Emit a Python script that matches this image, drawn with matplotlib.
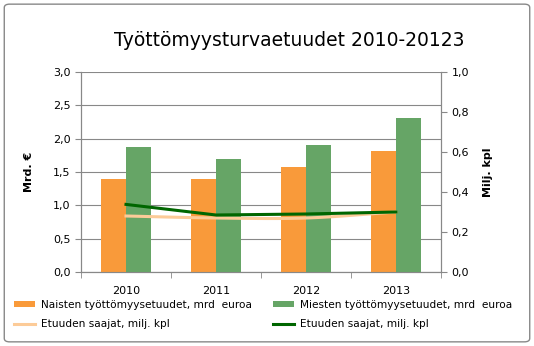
import numpy as np
import matplotlib
matplotlib.use('Agg')
import matplotlib.pyplot as plt
from matplotlib.patches import FancyBboxPatch

years = ['2010', '2011', '2012', '2013']
naiset = [1.39, 1.39, 1.58, 1.81]
miehet = [1.87, 1.69, 1.90, 2.31]
saajat_n = [0.28, 0.27, 0.27, 0.30]
saajat_m = [0.338, 0.285, 0.29, 0.30]

c_orange = '#F99A3A'
c_green = '#66A566'
c_light = '#FCCB98'
c_dark = '#006600'

plt.rcParams['font.family'] = ['DejaVu Sans']

fig = plt.figure(figsize=(5.34, 3.46), dpi=100)
fig.patches.append(FancyBboxPatch((0.008, 0.012), 0.984, 0.976, boxstyle='round,pad=0,rounding_size=0.01',
                                  transform=fig.transFigure, fill=False, ec='#888888', lw=1))
ax = fig.add_axes([81 / 534, 1 - 272 / 346, 360 / 534, 200 / 346])
ax2 = ax.twinx()

x = np.arange(len(years))
w = 0.28
ax.bar(x - w / 2, naiset, w, color=c_orange, label='Naisten työttömyysetuudet, mrd  euroa', zorder=3)
ax.bar(x + w / 2, miehet, w, color=c_green, label='Miesten työttömyysetuudet, mrd  euroa', zorder=3)


def smooth(xs, ys, n=20):
    # catmull-rom through the points
    xs = np.asarray(xs, float)
    ys = np.asarray(ys, float)
    px = np.concatenate([[2 * xs[0] - xs[1]], xs, [2 * xs[-1] - xs[-2]]])
    py = np.concatenate([[2 * ys[0] - ys[1]], ys, [2 * ys[-1] - ys[-2]]])
    ox, oy = [], []
    for i in range(1, len(px) - 2):
        t = np.linspace(0, 1, n)
        for p, o in ((px, ox), (py, oy)):
            p0, p1, p2, p3 = p[i - 1], p[i], p[i + 1], p[i + 2]
            o.extend(0.5 * (2 * p1 + (-p0 + p2) * t + (2 * p0 - 5 * p1 + 4 * p2 - p3) * t ** 2
                            + (-p0 + 3 * p1 - 3 * p2 + p3) * t ** 3))
    return ox, oy


sx, sy = smooth(x, saajat_n)
ax2.plot(sx, sy, color=c_light, lw=2.2, label='Etuuden saajat, milj. kpl', zorder=4)
ax2.plot(x, saajat_m, color=c_dark, lw=2.2, label='Etuuden saajat, milj. kpl', zorder=5)

ax.set_xlim(-0.5, 3.5)
ax.set_ylim(0, 3.0)
ax2.set_ylim(0, 1.0)
ax.set_yticks(np.arange(0, 3.01, 0.5))
ax.set_yticklabels([f'{v:.1f}'.replace('.', ',') for v in np.arange(0, 3.01, 0.5)])
ax2.set_yticks(np.arange(0, 1.01, 0.2))
ax2.set_yticklabels([f'{v:.1f}'.replace('.', ',') for v in np.arange(0, 1.01, 0.2)])
ax.set_xticks(x)
ax.set_xticklabels(years)
ax.set_xticks(np.arange(-0.5, 4, 1), minor=True)
ax.tick_params(axis='x', which='major', length=0, pad=10, labelsize=8)
ax.tick_params(axis='x', which='minor', length=4, color='#888888')
ax.tick_params(axis='y', length=4, color='#888888', labelsize=8)
ax2.tick_params(axis='y', length=4, color='#888888', labelsize=8)

ax.grid(axis='y', color='#888888', lw=0.8, zorder=0)
for a in (ax, ax2):
    a.spines['top'].set_visible(False)
    for s in ('left', 'right', 'bottom'):
        a.spines[s].set_color('#888888')

ax.set_ylabel('Mrd. €', fontsize=8, fontweight='bold', labelpad=14)
ax2.set_ylabel('Milj. kpl', fontsize=8, fontweight='bold', labelpad=10)

fig.text(0.541, 1 - 40 / 346, 'Työttömyysturvaetuudet 2010-20123', ha='center', va='center', fontsize=13.5)

h1, l1 = ax.get_legend_handles_labels()
h2, l2 = ax2.get_legend_handles_labels()
fig.legend([h1[0], h2[0], h1[1], h2[1]], [l1[0], l2[0], l1[1], l2[1]], ncol=2,
           loc='upper left', bbox_to_anchor=(14 / 534, 1 - 300 / 346), frameon=False,
           fontsize=7.6, handlelength=2.0, handleheight=0.55, handletextpad=0.6,
           columnspacing=1.9, labelspacing=0.85, borderpad=0, borderaxespad=0)

fig.savefig('out.png', dpi=100)
